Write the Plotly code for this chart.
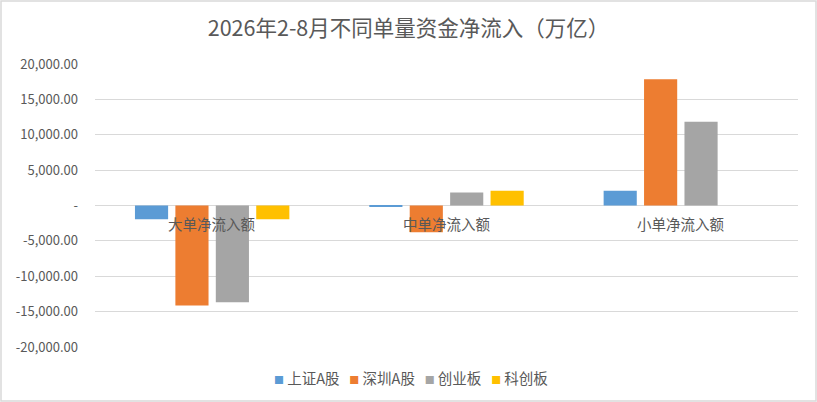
import plotly.graph_objects as go

categories = ['大单净流入额', '中单净流入额', '小单净流入额']
series_names = ['上证A股', '深圳A股', '创业板', '科创板']
sh_a = [-1950, -200, 2080]
sz_a = [-14150, -3780, 17830]
chinext = [-13680, 1840, 11840]
star = [-1950, 2080, 0]
tick_vals = [-20000, -15000, -10000, -5000, 0, 5000, 10000, 15000, 20000]
tick_text = ['-20,000.00', '-15,000.00', '-10,000.00', '-5,000.00', '-',
             '5,000.00', '10,000.00', '15,000.00', '20,000.00']

colors = ['#5b9bd5', '#ed7d31', '#a5a5a5', '#ffc000']
font = 'Noto Sans CJK SC, sans-serif'
grey = '#595959'

fig = go.Figure()
for name, vals, c in zip(series_names, [sh_a, sz_a, chinext, star], colors):
    fig.add_trace(go.Bar(x=categories, y=vals, name=name, marker_color=c,
                         marker_line_width=0))

# category labels sit next to the zero line, like Excel
for cat in categories:
    fig.add_annotation(x=cat, y=0, text=cat, showarrow=False, yanchor='top',
                       yshift=-5, font=dict(family=font, size=14.5, color=grey))

W, H = 817, 402
ml, mr, mt, mb = 95, 19, 64, 55
pw, ph = W - ml - mr, H - mt - mb

# Excel-style compact legend: small coloured square right before each name
legend_text = '&nbsp;&nbsp;&nbsp;'.join(
    f'<span style="color:{c};font-size:10px">■</span> {n}'
    for n, c in zip(series_names, colors))
fig.add_annotation(xref='paper', yref='paper', x=(411 - ml) / pw, y=-(377 - H + mb) / ph,
                   text=legend_text, showarrow=False, xanchor='center', yanchor='middle',
                   font=dict(family=font, size=14.5, color=grey))

fig.add_shape(type='rect', xref='paper', yref='paper',
              x0=-(ml - 1) / pw, x1=1 + (mr - 1) / pw,
              y0=-(mb - 1) / ph, y1=1 + (mt - 1) / ph,
              line=dict(color='#d9d9d9', width=1.5))

fig.update_layout(
    width=W, height=H,
    margin=dict(l=ml, r=mr, t=mt, b=mb, autoexpand=False),
    paper_bgcolor='white', plot_bgcolor='white',
    title=dict(text='2026年2-8月不同单量资金净流入（万亿）', x=0.5, xanchor='center',
               y=1 - 28 / H, yanchor='middle',
               font=dict(family=font, size=21.5, color=grey)),
    barmode='group', bargap=0.31, bargroupgap=0.18,
    showlegend=False,
    font=dict(family=font, color=grey),
)
fig.update_xaxes(showticklabels=False, showgrid=False, zeroline=False, showline=False,
                 ticks='')
fig.update_yaxes(range=[-20000, 20000], tickvals=tick_vals, ticktext=tick_text,
                 showgrid=True, gridcolor='#d9d9d9', gridwidth=1,
                 zeroline=True, zerolinecolor='#d9d9d9', zerolinewidth=1,
                 tickfont=dict(family=font, size=13, color=grey),
                 ticks='', ticklabelstandoff=16)

# drop the browser's default body margin so the chart fills the window
fig.write_html('out.html', config={'displayModeBar': False},
               post_script="document.body.style.margin='0';")
